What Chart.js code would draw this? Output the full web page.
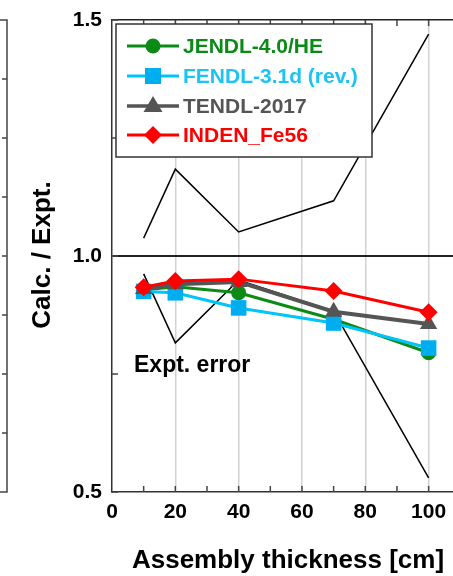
<!DOCTYPE html>
<html>
<head>
<meta charset="utf-8">
<script src="https://cdn.jsdelivr.net/npm/chart.js@4.4.1/dist/chart.umd.min.js"></script>
<style>
  html, body { margin: 0; padding: 0; background: #fff; overflow: hidden; }
</style>
</head>
<body>
<canvas id="myChart" width="453" height="576"></canvas>
<script>
// data
const thickness = [10, 20, 40, 70, 100];
const jendl = [0.928, 0.935, 0.922, 0.866, 0.795];
const fendl = [0.925, 0.922, 0.890, 0.858, 0.805];
const tendl = [0.930, 0.940, 0.945, 0.882, 0.856];
const inden = [0.934, 0.947, 0.951, 0.926, 0.881];
const errUpper = [1.038, 1.184, 1.051, 1.117, 1.470];
const errLower = [0.962, 0.816, 0.949, 0.883, 0.530];

const xTicks = [0, 10, 20, 30, 40, 50, 60, 70, 80, 90, 100];
const xLabels = [0, 20, 40, 60, 80, 100];
const yTicks = [0.5, 0.75, 1.0, 1.25, 1.5];
const yLabels = [0.5, 1.0, 1.5];
const leftPanelTicks = [0.5, 0.625, 0.75, 0.875, 1.0, 1.125, 1.25, 1.375, 1.5];

const seriesNames = ['JENDL-4.0/HE', 'FENDL-3.1d (rev.)', 'TENDL-2017', 'INDEN_Fe56'];

const GREEN = '#0b8a17';
const CYAN = '#00c4fa';
const CYANFILL = '#00aeef';
const GRAY = '#555555';
const RED = '#ff0000';
const FONT = "'Liberation Sans', Arial, sans-serif";

function pts(ys) {
  return thickness.map((x, i) => ({ x: x, y: ys[i] }));
}

// small marker painter, used for the legend samples
function marker(ctx, style, x, y, r, color) {
  ctx.fillStyle = color;
  ctx.beginPath();
  if (style === 'circle') {
    ctx.arc(x, y, r, 0, Math.PI * 2);
  } else if (style === 'rect') {
    ctx.rect(x - r, y - r, 2 * r, 2 * r);
  } else if (style === 'triangle') {
    ctx.moveTo(x, y - r);
    ctx.lineTo(x + r * 0.95, y + r * 0.6);
    ctx.lineTo(x - r * 0.95, y + r * 0.6);
    ctx.closePath();
  } else {
    ctx.moveTo(x, y - r);
    ctx.lineTo(x + r, y);
    ctx.lineTo(x, y + r);
    ctx.lineTo(x - r, y);
    ctx.closePath();
  }
  ctx.fill();
}

const decor = {
  id: 'decor',
  afterDraw(chart) {
    const ctx = chart.ctx;
    const a = chart.chartArea;
    const xs = chart.scales.x;
    const ys = chart.scales.y;
    ctx.save();

    // inward ticks
    ctx.strokeStyle = '#444';
    ctx.lineWidth = 1.5;
    ctx.beginPath();
    xTicks.forEach(v => {
      if (v === 0) return;
      const px = xs.getPixelForValue(v);
      ctx.moveTo(px, a.bottom);
      ctx.lineTo(px, a.bottom - 6);
      ctx.moveTo(px, a.top);
      ctx.lineTo(px, a.top + 6);
    });
    yTicks.forEach(v => {
      const py = ys.getPixelForValue(v);
      ctx.moveTo(a.left, py);
      ctx.lineTo(a.left + 6, py);
    });
    ctx.stroke();

    // edge of the neighbouring panel
    ctx.beginPath();
    ctx.moveTo(0, a.top);
    ctx.lineTo(7, a.top);
    ctx.lineTo(7, a.bottom);
    ctx.lineTo(0, a.bottom);
    leftPanelTicks.forEach(v => {
      const py = ys.getPixelForValue(v);
      ctx.moveTo(7, py);
      ctx.lineTo(2, py);
    });
    ctx.stroke();

    // axis titles
    ctx.fillStyle = '#000';
    ctx.font = 'bold 26px ' + FONT;
    ctx.textAlign = 'center';
    ctx.textBaseline = 'alphabetic';
    ctx.fillText('Assembly thickness [cm]', 288, 568);

    ctx.save();
    ctx.translate(50, 255);
    ctx.rotate(-Math.PI / 2);
    ctx.fillText('Calc. / Expt.', 0, 0);
    ctx.restore();

    // label of the error band
    ctx.font = 'bold 23px ' + FONT;
    ctx.textAlign = 'left';
    ctx.fillText('Expt. error', 134, 372);

    // legend
    const box = { l: 116, t: 24, r: 372, b: 157 };
    ctx.fillStyle = '#fff';
    ctx.fillRect(box.l, box.t, box.r - box.l, box.b - box.t);
    ctx.strokeStyle = '#333';
    ctx.lineWidth = 1.5;
    ctx.strokeRect(box.l, box.t, box.r - box.l, box.b - box.t);

    const rows = [46, 76, 106, 135];
    const lineCols = [GREEN, CYAN, GRAY, RED];
    const markCols = [GREEN, CYANFILL, GRAY, RED];
    const textCols = [GREEN, '#1cc4f2', GRAY, RED];
    const styles = ['circle', 'rect', 'triangle', 'diamond'];
    const sizes = [7.5, 8, 10, 9];
    ctx.font = 'bold 21px ' + FONT;
    ctx.textBaseline = 'middle';
    seriesNames.forEach((name, i) => {
      const y = rows[i];
      ctx.strokeStyle = lineCols[i];
      ctx.lineWidth = i === 2 ? 3.5 : 3;
      ctx.beginPath();
      ctx.moveTo(127, y);
      ctx.lineTo(179, y);
      ctx.stroke();
      marker(ctx, styles[i], 153, y, sizes[i], markCols[i]);
      ctx.fillStyle = textCols[i];
      ctx.fillText(name, 183, y + 1);
    });
    ctx.restore();
  }
};

const ctx = document.getElementById('myChart').getContext('2d');
const myChart = new Chart(ctx, {
  type: 'line',
  data: {
    datasets: [
      {
        label: seriesNames[3], data: pts(inden),
        borderColor: RED, backgroundColor: RED, borderWidth: 3,
        pointStyle: 'rectRot', pointRadius: 9, pointBorderWidth: 0
      },
      {
        label: seriesNames[2], data: pts(tendl),
        borderColor: GRAY, backgroundColor: GRAY, borderWidth: 4,
        pointStyle: 'triangle', pointRadius: 10, pointBorderWidth: 0
      },
      {
        label: seriesNames[1], data: pts(fendl),
        borderColor: CYAN, backgroundColor: CYANFILL, borderWidth: 3,
        pointStyle: 'rect', pointRadius: 11, pointBorderWidth: 0
      },
      {
        label: seriesNames[0], data: pts(jendl),
        borderColor: GREEN, backgroundColor: GREEN, borderWidth: 3,
        pointStyle: 'circle', pointRadius: 7.5, pointBorderWidth: 0
      },
      {
        label: 'err+', data: pts(errUpper),
        borderColor: '#000', borderWidth: 1.5, pointRadius: 0
      },
      {
        label: 'err-', data: pts(errLower),
        borderColor: '#000', borderWidth: 1.5, pointRadius: 0
      }
    ]
  },
  options: {
    responsive: false,
    animation: false,
    layout: { autoPadding: false, padding: { top: 20, left: 0, right: 0, bottom: 0 } },
    plugins: {
      legend: { display: false },
      tooltip: { enabled: false }
    },
    scales: {
      x: {
        type: 'linear',
        min: 0,
        max: 107.7,
        afterBuildTicks: s => { s.ticks = xTicks.map(v => ({ value: v })); },
        afterFit: s => { s.height = 84; s.paddingLeft = 0; s.paddingRight = 0; },
        ticks: {
          autoSkip: false,
          maxRotation: 0,
          padding: 8,
          color: '#000',
          font: { family: FONT, size: 21, weight: 'bold' },
          callback: v => (xLabels.includes(v) ? String(v) : '')
        },
        grid: {
          drawTicks: false,
          lineWidth: 1.5,
          color: c => (c.tick && c.tick.value > 0 && c.tick.value % 20 === 0) ? '#d2d2d2' : 'rgba(0,0,0,0)'
        },
        border: { color: '#333', width: 1.5 }
      },
      y: {
        min: 0.5,
        max: 1.5,
        afterBuildTicks: s => { s.ticks = yTicks.map(v => ({ value: v })); },
        afterFit: s => { s.width = 112; s.paddingTop = 0; s.paddingBottom = 0; },
        ticks: {
          padding: 10,
          color: '#000',
          font: { family: FONT, size: 21, weight: 'bold' },
          callback: v => (yLabels.includes(v) ? v.toFixed(1) : '')
        },
        grid: {
          drawTicks: false,
          lineWidth: c => (c.tick && c.tick.value === 1.0) ? 2 : 1.5,
          color: c => (c.tick && (c.tick.value === 1.0 || c.tick.value === 1.5)) ? '#222' : 'rgba(0,0,0,0)'
        },
        border: { color: '#333', width: 1.5 }
      }
    }
  },
  plugins: [decor]
});
</script>
</body>
</html>
